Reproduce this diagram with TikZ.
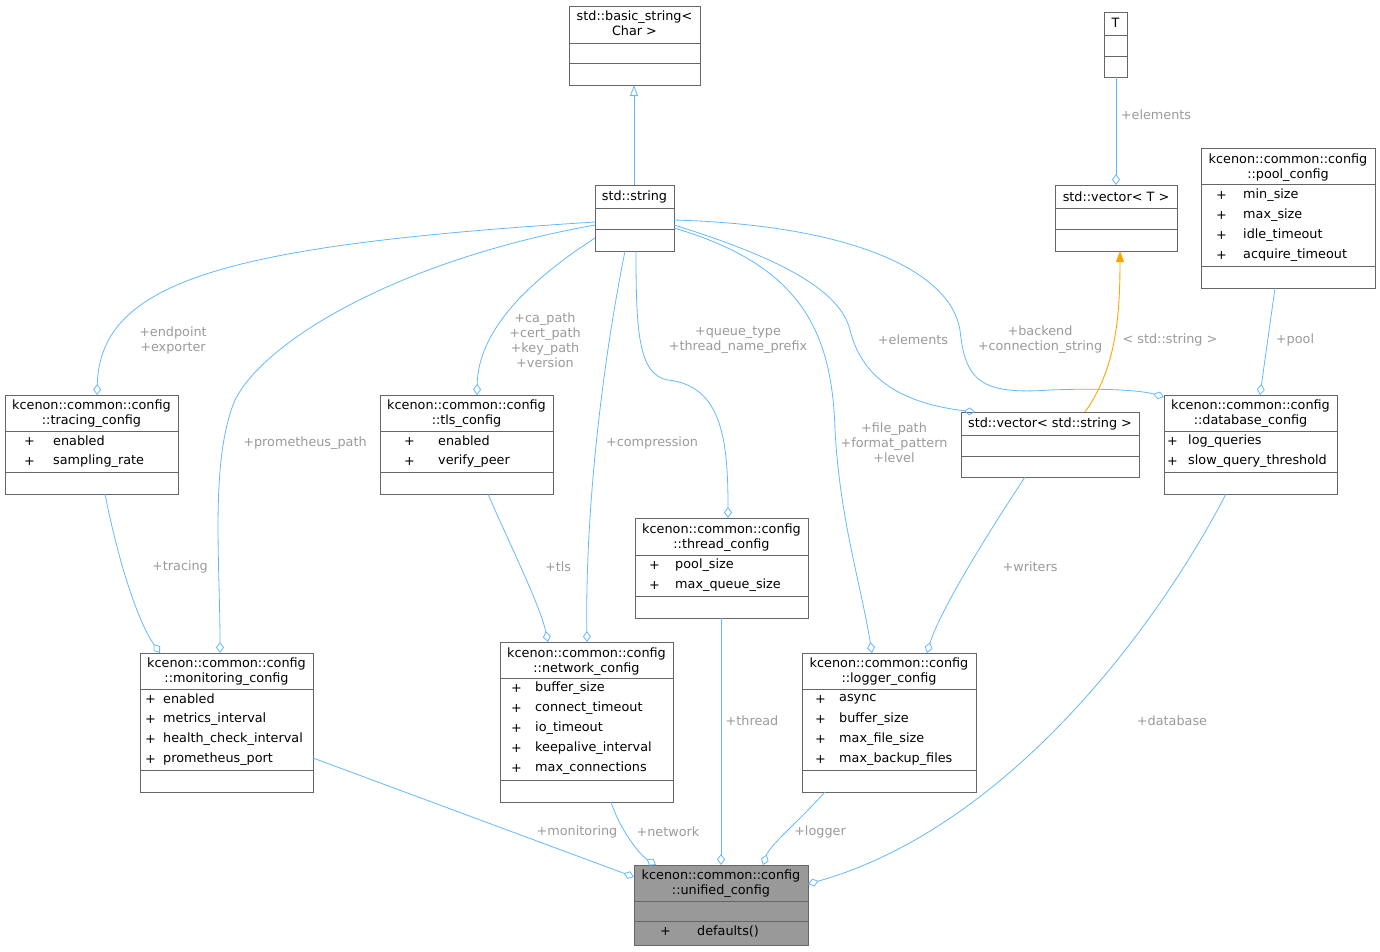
\documentclass[tikz,border=0pt]{standalone}
\usepackage{fontspec}
\setmainfont{DejaVu Sans}
\usetikzlibrary{arrows.meta,calc}
\definecolor{eblue}{HTML}{63B8FF}
\definecolor{lgray}{HTML}{9A9A9A}
\definecolor{borc}{HTML}{666666}
\definecolor{orng}{HTML}{FFA500}
\begin{document}
\begin{tikzpicture}[x=1pt,y=-1pt,
  cls/.style={draw=borc,line width=0.8pt,anchor=north west,inner sep=0pt,outer sep=0pt},
  sep/.style={draw=borc,line width=0.8pt},
  t/.style={font=\fontsize{12.8}{15}\selectfont,inner sep=0pt,text=black},
  a/.style={t,anchor=west},
  lbl/.style={font=\fontsize{12.8}{15}\selectfont,inner sep=0pt,text=lgray,align=center},
  agg/.style={draw=eblue,line width=0.8pt,-{Diamond[open,length=11pt,width=8pt]}},
  inh/.style={draw=eblue,line width=0.8pt,-{Triangle[open,length=11pt,width=8pt]}},
  tmpl/.style={draw=orng,line width=0.9pt,-{Triangle[length=11pt,width=8pt,fill=orng]}}]
\useasboundingbox (0,0) rectangle (1380,951);
\newcommand{\cls}[6][white]{\node[cls,fill=#1,minimum width=#5-#3,minimum height=#6-#4] (#2) at (#3,#4) {};}
\newcommand{\hs}[3]{\draw[sep] (#1,#3) -- (#2,#3);}
% boxes
\cls{bs}{569}{6}{700}{85}\hs{569}{700}{43}\hs{569}{700}{63}
\node[t] (bs1) at (634.5,17) {std::basic\_string<}; \node[t] (bs2) at (634.5,31) {Char >};
\cls{T}{1104}{12}{1127}{77}\hs{1104}{1127}{35}\hs{1104}{1127}{56}
\node[t] (Tt) at (1115.5,23) {T};
\cls{str}{595}{185}{674}{251}\hs{595}{674}{208}\hs{595}{674}{229}
\node[t] (strt) at (634.5,197) {std::string};
\cls{vT}{1055}{185}{1177}{251}\hs{1055}{1177}{208}\hs{1055}{1177}{229}
\node[t] (vTt) at (1116,197) {std::vector< T >};
\cls{pool}{1201}{148}{1375}{288}\hs{1201}{1375}{184}\hs{1201}{1375}{266}
\node[t] (p1) at (1288,160) {kcenon::common::config}; \node[t] (p2) at (1288,175) {::pool\_config};
\foreach \y/\n in {195/min\_size,215/max\_size,235/idle\_timeout,255/acquire\_timeout}{\node[a] at (1216,\y) {+}; \node[a] at (1243,\y) {\n};}
\cls{tr}{5}{395}{178}{494}\hs{5}{178}{431}\hs{5}{178}{472}
\node[t] (tr1) at (91.5,406) {kcenon::common::config}; \node[t] (tr2) at (91.5,421) {::tracing\_config};
\foreach \y/\n in {441/enabled,461/sampling\_rate}{\node[a] at (24,\y) {+}; \node[a] at (53,\y) {\n};}
\cls{tls}{380}{395}{553}{494}\hs{380}{553}{431}\hs{380}{553}{472}
\node[t] (tl1) at (466.5,406) {kcenon::common::config}; \node[t] (tl2) at (466.5,421) {::tls\_config};
\foreach \y/\n in {441/enabled,461/verify\_peer}{\node[a] at (404,\y) {+}; \node[a] at (438,\y) {\n};}
\cls{vS}{961}{412}{1139}{477}\hs{961}{1139}{435}\hs{961}{1139}{456}
\node[t] (vSt) at (1050,424) {std::vector< std::string >};
\cls{db}{1164}{395}{1337}{494}\hs{1164}{1337}{431}\hs{1164}{1337}{472}
\node[t] (db1) at (1250.5,406) {kcenon::common::config}; \node[t] (db2) at (1250.5,421) {::database\_config};
\foreach \y/\n in {441/log\_queries,461/slow\_query\_threshold}{\node[a] at (1167,\y) {+}; \node[a] at (1188,\y) {\n};}
\cls{th}{635}{518}{808}{618}\hs{635}{808}{555}\hs{635}{808}{596}
\node[t] (th1) at (721.5,530) {kcenon::common::config}; \node[t] (th2) at (721.5,545) {::thread\_config};
\foreach \y/\n in {565/pool\_size,585/max\_queue\_size}{\node[a] at (649,\y) {+}; \node[a] at (675,\y) {\n};}
\cls{mon}{140}{653}{313}{792}\hs{140}{313}{689}\hs{140}{313}{770}
\node[t] (mo1) at (226.5,664) {kcenon::common::config}; \node[t] (mo2) at (226.5,679) {::monitoring\_config};
\foreach \y/\n in {699/enabled,719/metrics\_interval,739/health\_check\_interval,759/prometheus\_port}{\node[a] at (145,\y) {+}; \node[a] at (163,\y) {\n};}
\cls{net}{500}{642}{673}{802}\hs{500}{673}{678}\hs{500}{673}{780}
\node[t] (ne1) at (586.5,654) {kcenon::common::config}; \node[t] (ne2) at (586.5,669) {::network\_config};
\foreach \y/\n in {688/buffer\_size,708/connect\_timeout,728/io\_timeout,748/keepalive\_interval,768/max\_connections}{\node[a] at (511,\y) {+}; \node[a] at (535,\y) {\n};}
\cls{log}{802}{653}{976}{792}\hs{802}{976}{689}\hs{802}{976}{770}
\node[t] (lo1) at (889,664) {kcenon::common::config}; \node[t] (lo2) at (889,679) {::logger\_config};
\foreach \y/\n in {699/async,719/buffer\_size,739/max\_file\_size,759/max\_backup\_files}{\node[a] at (815,\y) {+}; \node[a] at (839,\y) {\n};}
\cls[black!40]{uni}{634}{865}{808}{945}\hs{634}{808}{901}\hs{634}{808}{921}
\node[t] (un1) at (721,876) {kcenon::common::config}; \node[t] (un2) at (721,891) {::unified\_config};
\node[a] (un3) at (660,931) {+}; \node[a] (un4) at (697,931) {defaults()};
% connectors
\draw[inh] ($(str.north west)+(39,0)$) -- ($(bs.north west)+(65,79)$);
\draw[agg] ($(T.north west)+(12,65)$) -- ($(vT.north west)+(61,0)$);
\node[lbl] at (1156,115) {+elements};
\draw[tmpl] ($(vS.north west)+(124,0)$) .. controls (1115,370) and (1120,320) .. ($(vT.north west)+(65,66)$);
\node[lbl] at (1170,340) {< std::string >};
\draw[agg] ($(str.north west)+(0,37)$) .. controls (230,245) and (100,280) .. ($(tr.north west)+(92,0)$);
\node[lbl] at (173,340) {+endpoint\\+exporter};
\draw[agg] ($(str.north west)+(0,40)$) .. controls (400,260) and (265,340) .. (235,400) .. controls (210,460) and (220,560) .. ($(mon.north west)+(80,0)$);
\node[lbl] at (305,443) {+prometheus\_path};
\draw[agg] ($(str.north west)+(0,53)$) .. controls (530,280) and (478,330) .. ($(tls.north west)+(97,0)$);
\node[lbl] at (545,340) {+ca\_path\\+cert\_path\\+key\_path\\+version};
\draw[agg] ($(str.north west)+(30,66)$) .. controls (605,350) and (585,500) .. ($(net.north west)+(87,0)$);
\node[lbl] at (652,443) {+compression};
\draw[agg] ($(str.north west)+(41,66)$) .. controls (636,330) and (638,375) .. (668,380) .. controls (722,386) and (728,440) .. ($(th.north west)+(93,0)$);
\node[lbl] at (738,340) {+queue\_type\\+thread\_name\_prefix};
\draw[agg] ($(str.north west)+(79,43)$) .. controls (800,265) and (832,330) .. (835,430) .. controls (840,520) and (860,580) .. ($(log.north west)+(70,0)$);
\node[lbl] at (894,443) {+file\_path\\+format\_pattern\\+level};
\draw[agg] ($(str.north west)+(79,40)$) .. controls (780,258) and (840,290) .. (850,330) .. controls (860,370) and (890,402) .. ($(vS.north west)+(14,0)$);
\node[lbl] at (913,340) {+elements};
\draw[agg] ($(str.north west)+(79,35)$) .. controls (850,225) and (950,270) .. (960,330) .. controls (965,380) and (980,395) .. (1050,390) .. controls (1100,388) and (1140,390) .. ($(db.north west)+(0,2)$);
\node[lbl] at (1040,340) {+backend\\+connection\_string};
\draw[agg] ($(pool.north west)+(74,140)$) -- ($(db.north west)+(96,0)$);
\node[lbl] at (1295,340) {+pool};
\draw[agg] ($(tr.north west)+(100,99)$) .. controls (120,570) and (140,625) .. ($(mon.north west)+(20,0)$);
\node[lbl] at (180,567) {+tracing};
\draw[agg] ($(tls.north west)+(108,99)$) .. controls (510,545) and (540,605) .. ($(net.north west)+(48,0)$);
\node[lbl] at (558,567) {+tls};
\draw[agg] ($(vS.north west)+(64,65)$) .. controls (990,530) and (940,610) .. ($(log.north west)+(125,0)$);
\node[lbl] at (1030,567) {+writers};
\draw[agg] ($(mon.north west)+(173,105)$) -- ($(uni.north west)+(0,12)$);
\node[lbl] at (577,832) {+monitoring};
\draw[agg] ($(net.north west)+(111,160)$) .. controls (620,830) and (640,855) .. ($(uni.north west)+(22,0)$);
\node[lbl] at (668,832) {+network};
\draw[agg] ($(th.north west)+(86,100)$) -- ($(uni.north west)+(87,0)$);
\node[lbl] at (752,721) {+thread};
\draw[agg] ($(log.north west)+(23,139)$) .. controls (800,820) and (770,845) .. ($(uni.north west)+(129,0)$);
\node[lbl] at (820,832) {+logger};
\draw[agg] ($(db.north west)+(62,99)$) .. controls (1150,640) and (1000,830) .. ($(uni.north west)+(174,19)$);
\node[lbl] at (1172,721) {+database};
\end{tikzpicture}
\end{document}
